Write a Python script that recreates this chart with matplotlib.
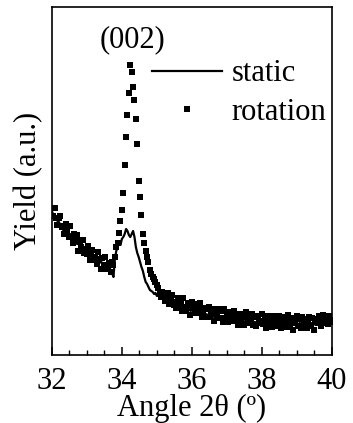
import numpy as np
import matplotlib
matplotlib.use("Agg")
import matplotlib.pyplot as plt
from matplotlib.ticker import MultipleLocator

plt.rcParams['font.family'] = ['Liberation Serif', 'DejaVu Serif']

# Angle 2θ grid: 32 -> 40 deg, step 0.04 (rows below = 0.2 deg each)
x_start, x_stop = 32.0, 40.0

rotation = [
    147, 139, 147, 137, 130,   # 32.0
    137, 139, 128, 129, 121,   # 32.2
    131, 125, 118, 129, 118,   # 32.4
    112, 121, 115, 120, 104,   # 32.6
    114, 108, 115, 102, 106,   # 32.8
    101, 109, 95, 103, 105,    # 33.0
    95, 98, 91, 103, 96,       # 33.2
    86, 97, 90, 98, 86,        # 33.4
    90, 92, 83, 93, 90,        # 33.6
    98, 108, 112, 122, 134,    # 33.8
    145, 162, 190, 218, 240,   # 34.0
    262, 290, 283, 268, 255,   # 34.2
    236, 211, 174, 158, 140,   # 34.4
    121, 112, 104, 98, 93,     # 34.6
    85, 81, 78, 76, 73,        # 34.8
    70, 67, 62, 58, 63,        # 35.0
    62, 54, 58, 62, 51,        # 35.2
    57, 60, 50, 53, 47,        # 35.4
    57, 49, 54, 44, 57,        # 35.6
    48, 44, 52, 50, 40,        # 35.8
    53, 47, 42, 51, 42,        # 36.0
    46, 52, 38, 42, 47,        # 36.2
    38, 46, 48, 38, 41,        # 36.4
    46, 34, 43, 39, 46,        # 36.6
    37, 44, 33, 46, 37,        # 36.8
    40, 33, 43, 38, 34,        # 37.0
    44, 35, 40, 30, 41,        # 37.2
    36, 41, 30, 38, 43,        # 37.4
    32, 37, 32, 41, 30,        # 37.6
    38, 29, 39, 34, 32,        # 37.8
    41, 31, 36, 27, 39,        # 38.0
    33, 37, 28, 39, 31,        # 38.2
    36, 29, 39, 33, 27,        # 38.4
    38, 31, 34, 28, 40,        # 38.6
    30, 35, 25, 37, 32,        # 38.8
    39, 29, 36, 27, 38,        # 39.0
    30, 36, 27, 33, 38,        # 39.2
    29, 37, 25, 34, 36,        # 39.4
    32, 39, 29, 36, 40,        # 39.6
    32, 38, 31, 39, 33,        # 39.8
    35,                        # 40.0
]

static = [
    144, 140, 138, 137, 134,   # 32.0
    133, 130, 129, 125, 126,   # 32.2
    123, 124, 119, 121, 117,   # 32.4
    118, 114, 115, 111, 112,   # 32.6
    109, 110, 106, 107, 103,   # 32.8
    104, 101, 102, 98, 99,     # 33.0
    97, 98, 94, 96, 92,        # 33.2
    94, 91, 92, 88, 90,        # 33.4
    87, 89, 84, 82, 78,        # 33.6
    96, 104, 108, 112, 110,    # 33.8
    116, 118, 121, 126, 124,   # 34.0
    120, 118, 121, 124, 118,   # 34.2
    108, 102, 98, 93, 88,      # 34.4
    84, 78, 73, 71, 68,        # 34.6
    65, 64, 63, 61, 62,        # 34.8
    59, 60, 57, 58, 56,        # 35.0
    57, 54, 55, 53, 54,        # 35.2
    51, 53, 50, 51, 49,        # 35.4
    50, 48, 49, 46, 48,        # 35.6
    46, 47, 45, 46, 44,        # 35.8
    45, 43, 44, 42, 44,        # 36.0
    42, 43, 41, 42, 40,        # 36.2
    41, 39, 41, 38, 40,        # 36.4
    38, 39, 37, 38, 36,        # 36.6
    38, 36, 37, 35, 37,        # 36.8
    35, 36, 34, 36, 34,        # 37.0
    35, 33, 35, 34, 33,        # 37.2
    34, 32, 34, 33, 32,        # 37.4
    33, 34, 32, 33, 31,        # 37.6
    33, 32, 33, 31, 32,        # 37.8
    32, 33, 31, 32, 31,        # 38.0
    32, 30, 32, 31, 32,        # 38.2
    31, 32, 30, 31, 32,        # 38.4
    30, 31, 32, 30, 31,        # 38.6
    32, 30, 31, 30, 32,        # 38.8
    31, 30, 32, 31, 30,        # 39.0
    31, 32, 30, 31, 30,        # 39.2
    32, 31, 30, 32, 31,        # 39.4
    32, 33, 32, 34, 33,        # 39.6
    34, 33, 35, 34, 33,        # 39.8
    34,                        # 40.0
]

xticks = [32, 34, 36, 38, 40]
peak_label = "(002)"
peak_pos = (34.3, 315)

x_rot = np.linspace(x_start, x_stop, len(rotation))
x_sta = np.linspace(x_start, x_stop, len(static))

fig = plt.figure(figsize=(3.53, 4.23), dpi=100)
ax = fig.add_axes([0.147, 0.161, 0.793, 0.822])

ax.plot(x_sta, static, color='black', lw=1.6, label='static')
ax.plot(x_rot, rotation, ls='none', marker='s', ms=4.2, color='black',
        mec='black', mew=0, label='rotation')

ax.set_xlim(32, 40)
ax.set_ylim(0, 348)
ax.set_xticks(xticks)
ax.xaxis.set_minor_locator(MultipleLocator(0.5))
ax.set_yticks([])
ax.tick_params(axis='x', which='major', direction='in', length=6, width=1.1,
               labelsize=22, pad=8.5, top=False)
ax.tick_params(axis='x', which='minor', direction='in', length=3.5, width=1.0,
               top=False)
for s in ax.spines.values():
    s.set_linewidth(1.2)

ax.set_xlabel('Angle 2θ (º)', fontsize=22, labelpad=-1)
ax.set_ylabel('Yield (a.u.)', fontsize=22, labelpad=6)

ax.text(peak_pos[0], peak_pos[1], peak_label, fontsize=22, ha='center', va='center')

ax.legend(loc='upper left', bbox_to_anchor=(0.357, 0.85), frameon=False,
          fontsize=22, handlelength=2.3, handletextpad=0.3, labelspacing=0.3,
          borderpad=0, borderaxespad=0, markerscale=1.0)

fig.savefig('out.png', dpi=100)
